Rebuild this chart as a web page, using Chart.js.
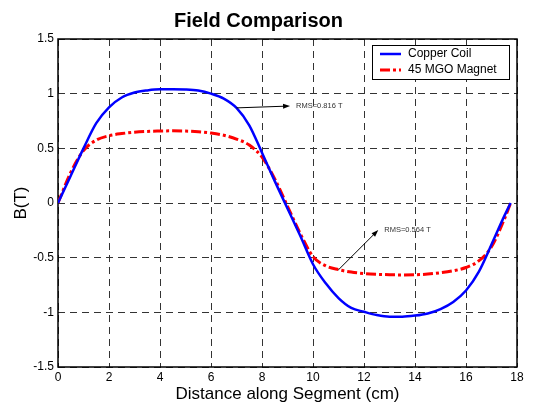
<!DOCTYPE html>
<html>
<head>
<meta charset="utf-8">
<script src="https://cdn.jsdelivr.net/npm/chart.js@4/dist/chart.umd.min.js"></script>
<style>
  html, body { margin: 0; padding: 0; background: #fff; }
  #wrap { width: 550px; height: 402px; }
</style>
</head>
<body>
<div id="wrap"><canvas id="fieldChart" width="550" height="402"></canvas></div>
<script>
// distance along segment (cm)
var distance = [0, 0.5, 1, 1.5, 2, 2.5, 3, 3.5, 4, 4.5, 5, 5.5, 6, 6.5, 7, 7.5, 8, 8.5, 9,
    9.5, 10, 10.5, 11, 11.5, 12, 12.5, 13, 13.5, 14, 14.5, 15, 15.5, 16, 16.5, 17, 17.5, 17.75];
// B(T) copper coil
var copperCoil = [0, 0.25, 0.5, 0.73, 0.875, 0.965, 1.01, 1.03, 1.04, 1.04, 1.038, 1.028, 1.0, 0.955, 0.87, 0.71, 0.46, 0.2, -0.05,
    -0.3, -0.56, -0.735, -0.87, -0.96, -0.995, -1.025, -1.04, -1.04, -1.03, -1.01, -0.97, -0.905, -0.8, -0.63, -0.38, -0.12, 0];
// B(T) 45 MGO magnet
var mgoMagnet = [0, 0.28, 0.48, 0.575, 0.615, 0.635, 0.648, 0.655, 0.658, 0.66, 0.658, 0.652, 0.64, 0.62, 0.585, 0.53, 0.42, 0.22, -0.03,
    -0.28, -0.49, -0.575, -0.61, -0.632, -0.645, -0.652, -0.656, -0.658, -0.656, -0.65, -0.638, -0.62, -0.59, -0.53, -0.4, -0.15, 0];

var seriesLabels = ['Copper Coil', '45 MGO Magnet'];
var xTicks = [0, 2, 4, 6, 8, 10, 12, 14, 16, 18];
var yTicks = [-1.5, -1, -0.5, 0, 0.5, 1, 1.5];

// RMS notes: text, arrow tail [x, y], arrow head [x, y]
var notes = [
    { text: 'RMS=0.816 T', from: [7.0, 0.87], to: [9.1, 0.887] },
    { text: 'RMS=0.564 T', from: [10.99, -0.613], to: [12.56, -0.247] }
];

var FONT = "'Liberation Sans', Arial, Helvetica, sans-serif";

function toPoints(ys) {
    return distance.map(function (x, i) { return { x: x, y: ys[i] }; });
}

var blue = 'rgb(0, 0, 255)';
var red = 'rgb(255, 0, 0)';
var redDash = [10, 3, 3, 3];

var framePlugin = {
    id: 'frame',
    beforeDraw: function (chart) {
        var c = chart.ctx;
        c.save();
        c.fillStyle = '#fff';
        c.fillRect(0, 0, chart.width, chart.height);
        c.restore();
    },
    beforeDatasetsDraw: function (chart) {
        var a = chart.chartArea, c = chart.ctx;
        c.save();
        c.strokeStyle = '#000';
        c.lineWidth = 1.5;
        c.strokeRect(a.left, a.top, a.right - a.left, a.bottom - a.top);
        c.restore();
    },
    afterDatasetsDraw: function (chart) {
        var c = chart.ctx, xs = chart.scales.x, ys = chart.scales.y;
        c.save();
        notes.forEach(function (n) {
            var x1 = xs.getPixelForValue(n.from[0]), y1 = ys.getPixelForValue(n.from[1]);
            var x2 = xs.getPixelForValue(n.to[0]), y2 = ys.getPixelForValue(n.to[1]);
            var ang = Math.atan2(y2 - y1, x2 - x1);
            c.strokeStyle = '#000';
            c.fillStyle = '#000';
            c.lineWidth = 1;
            c.beginPath();
            c.moveTo(x1, y1);
            c.lineTo(x2 - 5 * Math.cos(ang), y2 - 5 * Math.sin(ang));
            c.stroke();
            c.beginPath();
            c.moveTo(x2, y2);
            c.lineTo(x2 - 7 * Math.cos(ang) + 2.5 * Math.sin(ang), y2 - 7 * Math.sin(ang) - 2.5 * Math.cos(ang));
            c.lineTo(x2 - 7 * Math.cos(ang) - 2.5 * Math.sin(ang), y2 - 7 * Math.sin(ang) + 2.5 * Math.cos(ang));
            c.closePath();
            c.fill();
            c.fillStyle = '#333';
            c.font = '7.5px ' + FONT;
            c.textAlign = 'left';
            c.textBaseline = 'middle';
            c.fillText(n.text, x2 + 6, y2);
        });
        c.restore();
    },
    afterDraw: function (chart) {
        // legend box inside the plot, top right
        var a = chart.chartArea, c = chart.ctx;
        var w = 137, h = 34;
        var left = a.right - 8 - w, top = a.top + 6;
        c.save();
        c.fillStyle = '#fff';
        c.fillRect(left, top, w, h);
        c.strokeStyle = '#000';
        c.lineWidth = 1;
        c.strokeRect(left + 0.5, top + 0.5, w, h);
        chart.data.datasets.forEach(function (ds, i) {
            var y = top + 9 + i * 16;
            c.strokeStyle = ds.borderColor;
            c.lineWidth = ds.borderWidth;
            c.setLineDash(ds.borderDash || []);
            c.beginPath();
            c.moveTo(left + 8, y);
            c.lineTo(left + 29, y);
            c.stroke();
            c.setLineDash([]);
            c.fillStyle = '#000';
            c.font = '12px ' + FONT;
            c.textAlign = 'left';
            c.textBaseline = 'middle';
            c.fillText(ds.label, left + 36, y);
        });
        c.restore();
    }
};

var ctx = document.getElementById('fieldChart').getContext('2d');
var fieldChart = new Chart(ctx, {
    type: 'line',
    data: {
        datasets: [{
            label: seriesLabels[0],
            data: toPoints(copperCoil),
            borderColor: blue,
            borderWidth: 2.5,
            pointRadius: 0,
            fill: false,
            cubicInterpolationMode: 'monotone'
        }, {
            label: seriesLabels[1],
            data: toPoints(mgoMagnet),
            borderColor: red,
            borderWidth: 3,
            borderDash: redDash,
            pointRadius: 0,
            fill: false,
            cubicInterpolationMode: 'monotone'
        }]
    },
    options: {
        responsive: false,
        animation: false,
        events: [],
        layout: {
            padding: { left: 0, right: 33, top: 0, bottom: 0 }
        },
        plugins: {
            legend: { display: false },
            tooltip: { enabled: false },
            title: {
                display: true,
                text: 'Field Comparison',
                color: '#000',
                font: { family: FONT, size: 20, weight: 'bold' },
                padding: { top: 9, bottom: 6 }
            }
        },
        scales: {
            x: {
                type: 'linear',
                min: 0,
                max: 18,
                afterBuildTicks: function (s) { s.ticks = xTicks.map(function (v) { return { value: v }; }); },
                afterFit: function (s) { s.height = 35; },
                ticks: {
                    color: '#000',
                    padding: 3,
                    maxRotation: 0,
                    font: { family: FONT, size: 12 },
                    callback: function (v) { return String(v); }
                },
                grid: { color: '#333', lineWidth: 1, drawTicks: false },
                border: { display: false, dash: [7, 5] },
                title: {
                    display: true,
                    text: 'Distance along Segment (cm)',
                    color: '#000',
                    font: { family: FONT, size: 17 },
                    padding: { top: 0, bottom: -3 }
                }
            },
            y: {
                type: 'linear',
                min: -1.5,
                max: 1.5,
                afterBuildTicks: function (s) { s.ticks = yTicks.map(function (v) { return { value: v }; }); },
                afterFit: function (s) { s.width = 58; },
                ticks: {
                    color: '#000',
                    padding: 4,
                    font: { family: FONT, size: 12 },
                    callback: function (v) { return String(v); }
                },
                grid: { color: '#333', lineWidth: 1, drawTicks: false },
                border: { display: false, dash: [7, 5] },
                title: {
                    display: true,
                    text: 'B(T)',
                    color: '#000',
                    font: { family: FONT, size: 17 },
                    padding: { top: 11, bottom: 0 }
                }
            }
        }
    },
    plugins: [framePlugin]
});
</script>
</body>
</html>
